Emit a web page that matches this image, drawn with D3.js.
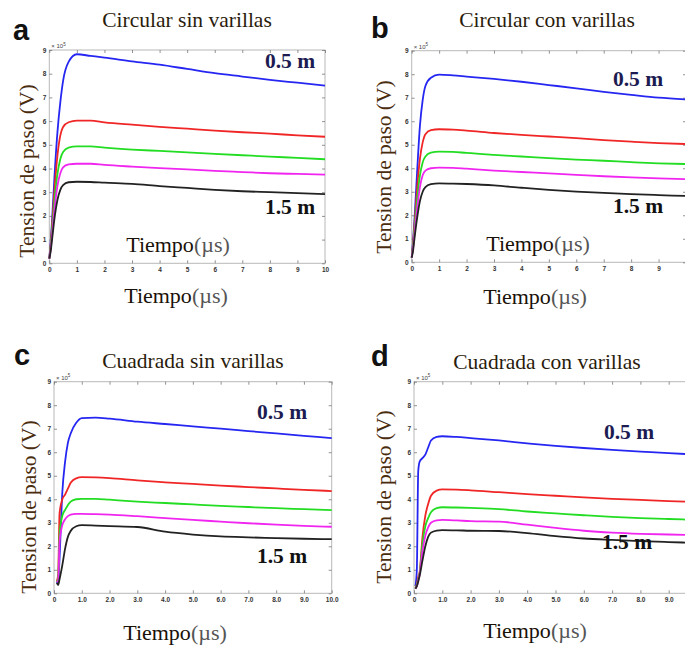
<!DOCTYPE html>
<html><head><meta charset="utf-8">
<script src="https://cdn.jsdelivr.net/npm/d3@7"></script>
<style>body{margin:0;background:#fff}svg{display:block}</style>
</head><body>
<svg id="c" width="685" height="645"></svg>
<script>
// ---- data ----
const titles = ["Circular sin varillas","Circular con varillas","Cuadrada sin varillas","Cuadrada con varillas"];
const letters = ["a","b","c","d"];
const yTicks = [0,1,2,3,4,5,6,7,8,9];
const xTicksAB = [0,1,2,3,4,5,6,7,8,9,10];
const xTickLabelsAB = ["0","1","2","3","4","5","6","7","8","9","10"];
const xTickLabelsCD = ["0","1.0","2.0","3.0","4.0","5.0","6.0","7.0","8.0","9.0","10.0"];
const seriesNames = ["0.5 m","","","","1.5 m"];

const timeA = [0,0.05,0.1,0.2,0.3,0.4,0.5,0.7,1.0,1.5,2,3,4,5,6,7,8,9,10];
const blueA = [0.2,0.9,1.8,3.9,5.6,6.8,7.7,8.5,8.82,8.75,8.68,8.52,8.38,8.2,8.02,7.88,7.74,7.62,7.5];
const redA = [0.2,0.8,1.6,3.3,4.6,5.4,5.75,5.95,6.02,6.02,5.95,5.85,5.76,5.68,5.6,5.53,5.47,5.4,5.34];
const greenA = [0.2,0.7,1.4,2.8,3.8,4.4,4.7,4.88,4.93,4.93,4.88,4.8,4.74,4.68,4.62,4.56,4.5,4.45,4.39];
const magentaA = [0.2,0.6,1.2,2.4,3.3,3.8,4.05,4.17,4.2,4.2,4.15,4.08,4.02,3.96,3.9,3.85,3.8,3.77,3.74];
const blackA = [0.2,0.5,1.0,2.0,2.7,3.1,3.3,3.42,3.44,3.43,3.4,3.35,3.26,3.18,3.1,3.04,3.0,2.96,2.92];

const timeB = [0,0.05,0.1,0.2,0.3,0.4,0.5,0.7,1.0,1.5,2,3,4,5,6,7,8,9,10];
const blueB = [0.2,0.9,1.8,3.9,5.8,6.9,7.5,7.85,7.98,7.95,7.9,7.8,7.68,7.54,7.4,7.25,7.12,7.0,6.93];
const redB = [0.2,0.8,1.6,3.2,4.4,5.1,5.45,5.62,5.66,5.64,5.6,5.5,5.42,5.35,5.28,5.2,5.13,5.07,5.03];
const greenB = [0.2,0.7,1.4,2.7,3.7,4.25,4.5,4.66,4.71,4.7,4.65,4.57,4.5,4.43,4.37,4.32,4.26,4.21,4.18];
const magentaB = [0.2,0.6,1.2,2.3,3.2,3.7,3.9,4.0,4.03,4.02,3.98,3.9,3.84,3.78,3.72,3.66,3.61,3.57,3.54];
const blackB = [0.2,0.5,1.0,1.9,2.6,3.0,3.2,3.32,3.36,3.35,3.33,3.27,3.17,3.08,3.01,2.95,2.9,2.86,2.82];

const timeC = [0.1,0.15,0.2,0.3,0.4,0.5,0.6,0.8,1.0,1.5,2,3,4,5,6,7,8,9,10];
const blueC = [0.5,0.4,1.5,4.3,5.6,6.4,6.8,7.25,7.45,7.47,7.43,7.3,7.2,7.1,7.0,6.9,6.8,6.7,6.6];
const redC = [0.5,0.8,3.4,4.0,4.2,4.45,4.7,4.89,4.94,4.93,4.9,4.8,4.72,4.65,4.58,4.52,4.46,4.4,4.35];
const greenC = [0.5,0.6,2.5,3.3,3.55,3.75,3.9,4.0,4.02,4.02,3.98,3.9,3.84,3.78,3.72,3.67,3.62,3.58,3.54];
const magentaC = [0.5,0.5,2.2,2.9,3.15,3.28,3.35,3.38,3.38,3.37,3.35,3.28,3.2,3.12,3.05,2.98,2.92,2.87,2.83];
const blackC = [0.45,0.35,0.6,1.2,1.9,2.4,2.65,2.85,2.9,2.88,2.86,2.82,2.62,2.5,2.42,2.38,2.35,2.32,2.3];

const timeD = [0.05,0.1,0.15,0.2,0.3,0.4,0.5,0.6,0.8,1.0,1.5,2,3,4,5,6,7,8,9,10];
const blueD = [0.3,1.0,5.2,5.6,5.75,5.9,6.2,6.5,6.65,6.68,6.65,6.6,6.5,6.38,6.27,6.18,6.1,6.03,5.96,5.9];
const redD = [0.2,0.4,0.7,0.9,2.4,3.3,3.8,4.15,4.37,4.42,4.41,4.38,4.3,4.22,4.15,4.08,4.02,3.97,3.92,3.88];
const greenD = [0.2,0.35,0.6,0.85,2.1,2.85,3.2,3.45,3.62,3.66,3.65,3.63,3.58,3.48,3.4,3.32,3.25,3.2,3.16,3.12];
const magentaD = [0.2,0.3,0.55,0.8,1.8,2.45,2.8,3.0,3.1,3.12,3.1,3.07,3.05,2.92,2.78,2.66,2.58,2.53,2.5,2.48];
const blackD = [0.2,0.3,0.5,0.75,1.4,2.0,2.4,2.58,2.67,2.69,2.68,2.66,2.65,2.56,2.43,2.33,2.27,2.22,2.18,2.14];

// ---- layout ----
const W = 685;
const colors = ["#2626f2","#f02626","#22dd22","#f026f0","#222222"];
const panels = [
  {time:timeA, series:[blueA,redA,greenA,magentaA,blackA], xl:xTickLabelsAB,
   x0:49.3,x1:325,yt:50,yb:263.3, letter:[13,40], title:[187,27], ylab:[26,171],
   lab05:[290,68], lab15:[290,214], tIn:[178,252], tOut:[176,303]},
  {time:timeB, series:[blueB,redB,greenB,magentaB,blackB], xl:xTickLabelsAB,
   x0:411.7,x1:686,yt:50.7,yb:262.3, letter:[371,38], title:[547,27], ylab:[383,167],
   lab05:[638,86], lab15:[638,213], tIn:[538,251], tOut:[535,304]},
  {time:timeC, series:[blueC,redC,greenC,magentaC,blackC], xl:xTickLabelsCD,
   x0:54,x1:331.7,yt:381.7,yb:593.3, letter:[14,365], title:[193,368], ylab:[28,507],
   lab05:[282,419], lab15:[282,563], tIn:null, tOut:[175,640]},
  {time:timeD, series:[blueD,redD,greenD,magentaD,blackD], xl:xTickLabelsCD,
   x0:414,x1:697,yt:381.7,yb:593.3, letter:[371,366], title:[547,369], ylab:[383,497],
   lab05:[629,439], lab15:[627,549], tIn:null, tOut:[535,638]}
];

const svg = d3.select("#c");
const serif = "'Liberation Serif','Times New Roman',serif";
const sans = "'Liberation Sans',Arial,sans-serif";

panels.forEach((p,i)=>{
  const x = d3.scaleLinear().domain([0,10]).range([p.x0,p.x1]);
  const y = d3.scaleLinear().domain([0,9]).range([p.yb,p.yt]);
  const g = svg.append("g");
  // frame
  g.append("rect").attr("x",p.x0).attr("y",p.yt).attr("width",p.x1-p.x0).attr("height",p.yb-p.yt)
    .attr("fill","none").attr("stroke","#b8b8b8").attr("stroke-width",1);
  // axes (only ticks that fall inside the picture get labels)
  const visTicks = xTicksAB.filter(v=>x(v) <= W-1);
  const bx = g.append("g").attr("transform",`translate(0,${p.yb})`)
    .call(d3.axisBottom(x).tickValues(visTicks).tickSize(-3).tickPadding(4).tickFormat(d=>p.xl[xTicksAB.indexOf(d)]));
  const tx = g.append("g").attr("transform",`translate(0,${p.yt})`)
    .call(d3.axisTop(x).tickValues(visTicks).tickSize(-3).tickFormat(""));
  const ly = g.append("g").attr("transform",`translate(${p.x0},0)`)
    .call(d3.axisLeft(y).tickValues(yTicks).tickSize(-3).tickPadding(3));
  const ry = g.append("g").attr("transform",`translate(${p.x1},0)`)
    .call(d3.axisRight(y).tickValues(yTicks).tickSize(-3).tickFormat(""));
  [bx,tx,ly,ry].forEach(a=>{
    a.select(".domain").remove();
    a.selectAll(".tick line").attr("stroke","#777").attr("stroke-width",0.8);
    a.selectAll(".tick text").attr("fill","#333").attr("font-family",sans)
      .attr("font-size",6.5).attr("font-weight","bold");
  });
  // keep edge tick labels inside the picture
  bx.selectAll(".tick").each(function(d){
    if (x(d) > W-8) d3.select(this).select("text").attr("text-anchor","end").attr("x",W-1-x(d));
  });
  // multiplier
  const m = g.append("text").attr("x",p.x0+2).attr("y",p.yt-2).attr("font-family",sans)
    .attr("font-size",6).attr("fill","#444");
  m.append("tspan").text("× 10");
  m.append("tspan").attr("dy",-2.5).attr("font-size",4.5).text("5");
  // lines
  const line = d3.line().x((d,k)=>x(p.time[k])).y(d=>y(d)).curve(d3.curveMonotoneX);
  p.series.forEach((s,k)=>{
    g.append("path").datum(s).attr("d",line).attr("fill","none")
      .attr("stroke",colors[k]).attr("stroke-width",1.8).attr("stroke-linejoin","round");
  });
  // texts
  g.append("text").attr("x",p.letter[0]).attr("y",p.letter[1]).text(letters[i])
    .attr("font-family",sans).attr("font-weight","bold").attr("font-size",29).attr("fill","#111");
  g.append("text").attr("x",p.title[0]).attr("y",p.title[1]).attr("text-anchor","middle").text(titles[i])
    .attr("font-family",serif).attr("font-size",21.5).attr("fill","#2a1c0c");
  g.append("text").attr("transform",`translate(${p.ylab[0]},${p.ylab[1]}) rotate(-90)`)
    .attr("text-anchor","middle").attr("dy","0.35em").text("Tension de paso (V)")
    .attr("font-family",serif).attr("font-size",21.5).attr("fill","#4a2c0e");
  g.append("text").attr("x",p.lab05[0]).attr("y",p.lab05[1]).attr("text-anchor","middle").text(seriesNames[0])
    .attr("font-family",serif).attr("font-weight","bold").attr("font-size",21.5).attr("fill","#1c1c52");
  g.append("text").attr("x",p.lab15[0]).attr("y",p.lab15[1]).attr("text-anchor","middle").text(seriesNames[4])
    .attr("font-family",serif).attr("font-weight","bold").attr("font-size",21.5).attr("fill","#111");
  const tl = (pos)=>{
    const t = g.append("text").attr("x",pos[0]).attr("y",pos[1]).attr("text-anchor","middle")
      .attr("font-family",serif).attr("font-size",22).attr("fill","#1a1208");
    t.append("tspan").text("Tiempo");
    t.append("tspan").attr("fill","#555").text("(µs)");
  };
  if (p.tIn) tl(p.tIn);
  tl(p.tOut);
});
</script>
</body></html>
